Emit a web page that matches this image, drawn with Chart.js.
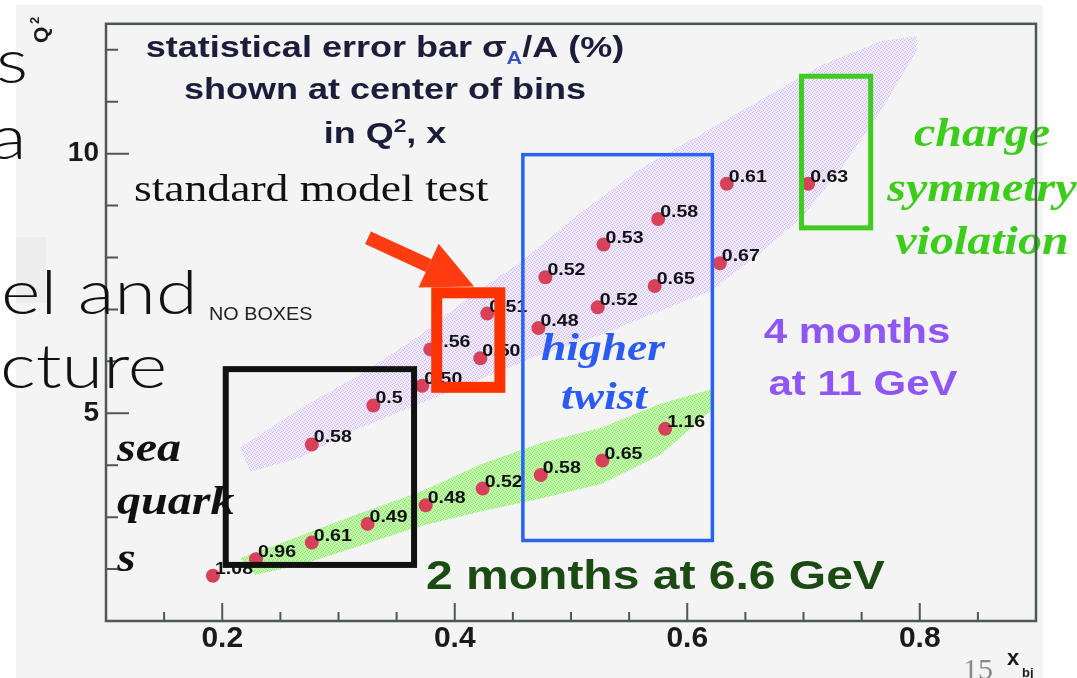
<!DOCTYPE html>
<html>
<head>
<meta charset="utf-8">
<script src="https://cdn.jsdelivr.net/npm/chart.js@4.4.0/dist/chart.umd.min.js"></script>
<style>
  html, body { margin: 0; padding: 0; background: #fff; }
  #wrap { position: relative; width: 1077px; height: 678px; overflow: hidden; }
  #c { position: absolute; left: 0; top: 0; }
  .slide { position: absolute; font-family: Lato, "Open Sans", sans-serif; font-weight: 300;
           font-size: 62px; line-height: 1; color: #111; white-space: nowrap;
           transform: scaleX(1.22); transform-origin: left top; }
  .small { font-family: "Liberation Sans", Arial, sans-serif; font-weight: 400; font-size: 18px; color: #222;
           transform: scaleX(1.1); }
  .page { font-family: "Liberation Serif", serif; font-size: 30px; color: #888; transform: none; }
</style>
</head>
<body>
<div id="wrap">
  <canvas id="c" width="1077" height="678"></canvas>
  <div class="slide" style="left:-4px; top:28px;">s</div>
  <div class="slide" style="left:-10px; top:104px;">a</div>
  <div class="slide" style="left:1px; top:259px;">el and</div>
  <div class="slide" style="left:0px; top:333px;">cture</div>
  <div class="slide small" style="left:209px; top:305px;">NO BOXES</div>
  <div class="slide page" style="left:963px; top:654px;">15</div>
</div>
<script>
// Q^2 vs x_bj kinematic coverage, statistical error bar sigma_A/A (%) per bin

// lower band: 2 months at 6.6 GeV
const lowX = [0.192, 0.229, 0.277, 0.325, 0.375, 0.424, 0.474, 0.527, 0.581];
const lowQ2 = [1.87, 2.19, 2.51, 2.87, 3.23, 3.55, 3.81, 4.09, 4.70];
const lowErr = ['1.08', '0.96', '0.61', '0.49', '0.48', '0.52', '0.58', '0.65', '1.16'];

// upper band: 4 months at 11 GeV
const highX = [0.277, 0.330, 0.372, 0.379, 0.422, 0.428, 0.472, 0.478, 0.523, 0.528, 0.572, 0.575, 0.628, 0.634, 0.704];
const highQ2 = [4.40, 5.15, 5.53, 6.23, 6.06, 6.92, 6.64, 7.62, 7.04, 8.25, 7.45, 8.74, 7.89, 9.42, 9.42];
const highErr = ['0.58', '0.5', '0.50', '0.56', '0.50', '0.51', '0.48', '0.52', '0.52', '0.53', '0.65', '0.58', '0.67', '0.61', '0.63'];

// acceptance bands (outline, x then Q2)
const purpleBandX = [0.2155, 0.2672, 0.3190, 0.3707, 0.4138, 0.4569, 0.5086, 0.5603, 0.6121, 0.6638, 0.7155, 0.7672, 0.7974,
                     0.7974, 0.7672, 0.7328, 0.6983, 0.6638, 0.6207, 0.5776, 0.5259, 0.4741, 0.4224, 0.3707, 0.3190, 0.2672, 0.2241];
const purpleBandQ2 = [4.34, 5.09, 5.75, 6.51, 7.26, 7.92, 8.87, 9.72, 10.38, 11.04, 11.70, 12.17, 12.26,
                      11.98, 10.85, 9.72, 8.77, 8.11, 7.36, 6.98, 6.51, 6.13, 5.66, 5.19, 4.72, 4.15, 3.87];
const greenBandX = [0.2155, 0.2672, 0.3190, 0.3707, 0.4224, 0.4741, 0.5259, 0.5776, 0.6224,
                    0.6224, 0.5776, 0.5259, 0.4741, 0.4224, 0.3707, 0.3190, 0.2672, 0.2284];
const greenBandQ2 = [2.21, 2.64, 3.08, 3.49, 4.02, 4.43, 4.72, 5.19, 5.47,
                     5.09, 4.21, 3.64, 3.36, 3.11, 2.83, 2.45, 2.08, 1.89];

// highlighted regions [min, max]
const seaBoxX = [0.203, 0.365], seaBoxQ2 = [2.08, 5.85];
const smBoxX = [0.3845, 0.4388], smBoxQ2 = [5.50, 7.32];
const twistBoxX = [0.4586, 0.6216], twistBoxQ2 = [2.55, 9.98];
const csvBoxX = [0.6983, 0.7578], csvBoxQ2 = [8.57, 11.49];

// axes
const xRange = [0.1, 0.9];
const q2Range = [1, 12.5];
const xTicks = [0.2, 0.4, 0.6, 0.8];
const xMinorTicks = [0.15, 0.25, 0.3, 0.35, 0.45, 0.5, 0.55, 0.65, 0.7, 0.75, 0.85];
const q2Ticks = [5, 10];
const q2MinorTicks = [2, 3, 4, 6, 7, 8, 9, 11, 12];

const SANS = '"Liberation Sans", Arial, sans-serif';
const SERIF = '"Liberation Serif", "Times New Roman", serif';
const SX = 1.2; // the pasted plot is stretched sideways

const toXY = (xs, ys) => xs.map((x, i) => ({ x: x, y: ys[i] }));

// speckled fill like the scatter-plotted acceptance
function speckle(base, dot) {
    const c = document.createElement('canvas');
    c.width = 4; c.height = 4;
    const g = c.getContext('2d');
    g.fillStyle = base;
    g.fillRect(0, 0, 4, 4);
    g.fillStyle = dot;
    [[0, 0], [2, 1], [1, 3], [3, 2]].forEach(([x, y]) => g.fillRect(x, y, 1, 1));
    return document.getElementById('c').getContext('2d').createPattern(c, 'repeat');
}

function stretchText(ctx, str, x, y, font, color, align, sx) {
    ctx.save();
    ctx.font = font;
    ctx.fillStyle = color;
    ctx.textBaseline = 'alphabetic';
    ctx.textAlign = 'left';
    const w = ctx.measureText(str).width * sx;
    let left = x;
    if (align === 'center') left = x - w / 2;
    else if (align === 'right') left = x - w;
    ctx.translate(left, y);
    ctx.scale(sx, 1);
    ctx.fillText(str, 0, 0);
    ctx.restore();
    return w;
}

// runs of differently styled text, centered at cx
function drawRuns(ctx, runs, cx, y, sx) {
    let total = 0;
    runs.forEach(r => { ctx.font = r.font; r.w = ctx.measureText(r.t).width * sx; total += r.w; });
    let x = cx - total / 2;
    runs.forEach(r => {
        stretchText(ctx, r.t, x, y + (r.dy || 0), r.font, r.color, 'left', sx);
        x += r.w;
    });
}

function strokeBox(ctx, xs, ys, bx, by, color, width) {
    const l = xs.getPixelForValue(bx[0]), r = xs.getPixelForValue(bx[1]);
    const t = ys.getPixelForValue(by[1]), b = ys.getPixelForValue(by[0]);
    ctx.save();
    ctx.strokeStyle = color;
    ctx.lineWidth = width;
    ctx.strokeRect(l, t, r - l, b - t);
    ctx.restore();
}

const overlayPlugin = {
    id: 'overlay',
    beforeDraw(chart) {
        const ctx = chart.ctx;
        ctx.save();
        ctx.fillStyle = '#ffffff';
        ctx.fillRect(0, 0, chart.width, chart.height);
        ctx.fillStyle = '#f3f4f3';
        ctx.fillRect(16, 5, 1027, chart.height - 5);
        ctx.fillStyle = '#ededed';
        ctx.fillRect(16, 237, 30, 66);
        ctx.restore();
    },
    afterDatasetsDraw(chart) {
        const ctx = chart.ctx;
        const xs = chart.scales.x, ys = chart.scales.y;
        const ca = chart.chartArea;
        const P = (x, y) => [xs.getPixelForValue(x), ys.getPixelForValue(y)];

        // error labels next to each point
        chart.data.datasets.forEach((ds, di) => {
            if (!ds.errLabels) return;
            const meta = chart.getDatasetMeta(di);
            meta.data.forEach((pt, i) => {
                stretchText(ctx, ds.errLabels[i], pt.x + 2, pt.y - 2, 'bold 17px ' + SANS, '#111', 'left', 1.15);
            });
        });

        // highlighted regions
        strokeBox(ctx, xs, ys, seaBoxX, seaBoxQ2, '#111111', 6);
        strokeBox(ctx, xs, ys, smBoxX, smBoxQ2, '#ff3300', 11);
        strokeBox(ctx, xs, ys, twistBoxX, twistBoxQ2, '#2a62f5', 3.5);
        strokeBox(ctx, xs, ys, csvBoxX, csvBoxQ2, '#3fcc1e', 5);

        // red arrow to the standard model box
        const [ax0, ay0] = P(0.3254, 8.38);
        const [ax1, ay1] = P(0.4166, 7.44);
        const ang = Math.atan2(ay1 - ay0, ax1 - ax0);
        const headLen = 50, headHalf = 24;
        const bx = ax1 - headLen * Math.cos(ang), by = ay1 - headLen * Math.sin(ang);
        ctx.save();
        ctx.strokeStyle = '#ff3b12';
        ctx.fillStyle = '#ff3b12';
        ctx.lineWidth = 14;
        ctx.beginPath();
        ctx.moveTo(ax0, ay0);
        ctx.lineTo(bx, by);
        ctx.stroke();
        ctx.beginPath();
        ctx.moveTo(ax1, ay1);
        ctx.lineTo(bx - headHalf * Math.sin(ang), by + headHalf * Math.cos(ang));
        ctx.lineTo(bx + headHalf * Math.sin(ang), by - headHalf * Math.cos(ang));
        ctx.closePath();
        ctx.fill();
        ctx.restore();

        // titles and labels inside the frame
        const navy = '#1b1d3a';
        const tFont = 'bold 30px ' + SANS;
        let p = P(0.340, 11.86);
        drawRuns(ctx, [
            { t: 'statistical error bar \u03c3', font: tFont, color: navy },
            { t: 'A', font: 'bold 18px ' + SANS, color: '#3a4fc4', dy: 7 },
            { t: '/A (%)', font: tFont, color: navy }
        ], p[0], p[1], SX);
        p = P(0.340, 11.05);
        stretchText(ctx, 'shown at center of bins', p[0], p[1], tFont, navy, 'center', SX);
        p = P(0.340, 10.20);
        drawRuns(ctx, [
            { t: 'in Q', font: tFont, color: navy },
            { t: '2', font: 'bold 19px ' + SANS, color: navy, dy: -11 },
            { t: ', x', font: tFont, color: navy }
        ], p[0], p[1], SX);

        p = P(0.124, 9.08);
        stretchText(ctx, 'standard model test', p[0], p[1], '38px ' + SERIF, '#111', 'left', SX);

        const blue = '#2a5cf5';
        p = P(0.5275, 6.02);
        stretchText(ctx, 'higher', p[0], p[1], 'italic bold 38px ' + SERIF, blue, 'center', SX);
        p = P(0.5284, 5.08);
        stretchText(ctx, 'twist', p[0], p[1], 'italic bold 38px ' + SERIF, blue, 'center', SX);

        const lime = '#3ccc1a';
        [['charge', 10.14], ['symmetry', 9.08], ['violation', 8.06]].forEach(([s, q]) => {
            p = P(0.8535, q);
            stretchText(ctx, s, p[0], p[1], 'italic bold 40px ' + SERIF, lime, 'center', SX);
        });

        const purple = '#8f55f7';
        p = P(0.746, 6.36);
        stretchText(ctx, '4 months', p[0], p[1], 'bold 35px ' + SANS, purple, 'center', SX);
        p = P(0.7512, 5.36);
        stretchText(ctx, 'at 11 GeV', p[0], p[1], 'bold 35px ' + SANS, purple, 'center', SX);

        p = P(0.3753, 1.62);
        stretchText(ctx, '2 months at 6.6 GeV', p[0], p[1], 'bold 40px ' + SANS, '#1b4a12', 'left', SX);

        [['sea', 4.08], ['quark', 3.06], ['s', 1.96]].forEach(([s, q]) => {
            p = P(0.1095, q);
            stretchText(ctx, s, p[0], p[1], 'italic bold 40px ' + SERIF, '#111', 'left', SX);
        });

        // frame with inward ticks
        ctx.save();
        ctx.strokeStyle = '#4d5757';
        ctx.lineWidth = 2.5;
        ctx.strokeRect(ca.left, ca.top, ca.right - ca.left, ca.bottom - ca.top);
        ctx.lineWidth = 2;
        ctx.beginPath();
        xTicks.forEach(v => { const x = xs.getPixelForValue(v); ctx.moveTo(x, ca.bottom); ctx.lineTo(x, ca.bottom - 18); });
        xMinorTicks.forEach(v => { const x = xs.getPixelForValue(v); ctx.moveTo(x, ca.bottom); ctx.lineTo(x, ca.bottom - 9); });
        q2Ticks.forEach(v => { const y = ys.getPixelForValue(v); ctx.moveTo(ca.left, y); ctx.lineTo(ca.left + 23, y); });
        q2MinorTicks.forEach(v => { const y = ys.getPixelForValue(v); ctx.moveTo(ca.left, y); ctx.lineTo(ca.left + 12, y); });
        ctx.stroke();
        ctx.restore();

        // axis titles
        ctx.save();
        ctx.fillStyle = '#1a1a1a';
        ctx.font = 'bold 22px ' + SANS;
        ctx.fillText('x', 1007, 665);
        ctx.font = 'bold 13px ' + SANS;
        ctx.fillText('bj', 1022, 677);
        ctx.translate(48, 43);
        ctx.rotate(-Math.PI / 2);
        ctx.font = 'bold 21px ' + SANS;
        ctx.fillText('Q', 0, 0);
        ctx.font = 'bold 13px ' + SANS;
        ctx.fillText('2', 19, -9);
        ctx.restore();
    }
};

const ctx = document.getElementById('c').getContext('2d');
const chart = new Chart(ctx, {
    type: 'scatter',
    data: {
        datasets: [
            {
                label: '11 GeV acceptance',
                data: toXY(purpleBandX, purpleBandQ2),
                showLine: true,
                fill: 'shape',
                backgroundColor: speckle('rgba(228, 214, 255, 0.35)', 'rgba(200, 165, 255, 0.75)'),
                borderWidth: 0,
                pointRadius: 0,
                order: 3
            },
            {
                label: '6.6 GeV acceptance',
                data: toXY(greenBandX, greenBandQ2),
                showLine: true,
                fill: 'shape',
                backgroundColor: speckle('rgba(175, 245, 145, 0.7)', 'rgba(125, 235, 85, 0.9)'),
                borderWidth: 0,
                pointRadius: 0,
                order: 2
            },
            {
                label: '2 months at 6.6 GeV',
                data: toXY(lowX, lowQ2),
                errLabels: lowErr,
                backgroundColor: '#d8415a',
                borderWidth: 0,
                pointRadius: 7,
                order: 1
            },
            {
                label: '4 months at 11 GeV',
                data: toXY(highX, highQ2),
                errLabels: highErr,
                backgroundColor: '#d8415a',
                borderWidth: 0,
                pointRadius: 7,
                order: 1
            }
        ]
    },
    options: {
        responsive: false,
        maintainAspectRatio: false,
        devicePixelRatio: 1,
        animation: false,
        layout: { padding: { left: 0, right: 41, top: 12, bottom: 0 } },
        plugins: { legend: { display: false }, tooltip: { enabled: false } },
        scales: {
            x: {
                type: 'linear',
                min: xRange[0],
                max: xRange[1],
                grid: { display: false, drawTicks: false },
                border: { display: false },
                afterFit(scale) { scale.height = 57; },
                afterBuildTicks(scale) { scale.ticks = xTicks.map(v => ({ value: v })); },
                ticks: {
                    padding: 0,
                    color: '#1a1a1a',
                    font: { family: SANS, weight: 'bold', size: 30 },
                    callback: v => v.toFixed(1)
                }
            },
            y: {
                type: 'linear',
                min: q2Range[0],
                max: q2Range[1],
                grid: { display: false, drawTicks: false },
                border: { display: false },
                afterFit(scale) { scale.width = 106; },
                afterBuildTicks(scale) { scale.ticks = q2Ticks.map(v => ({ value: v })); },
                ticks: {
                    padding: 7,
                    color: '#1a1a1a',
                    font: { family: SANS, weight: 'bold', size: 28 },
                    callback: v => String(v)
                }
            }
        }
    },
    plugins: [overlayPlugin]
});
</script>
</body>
</html>
